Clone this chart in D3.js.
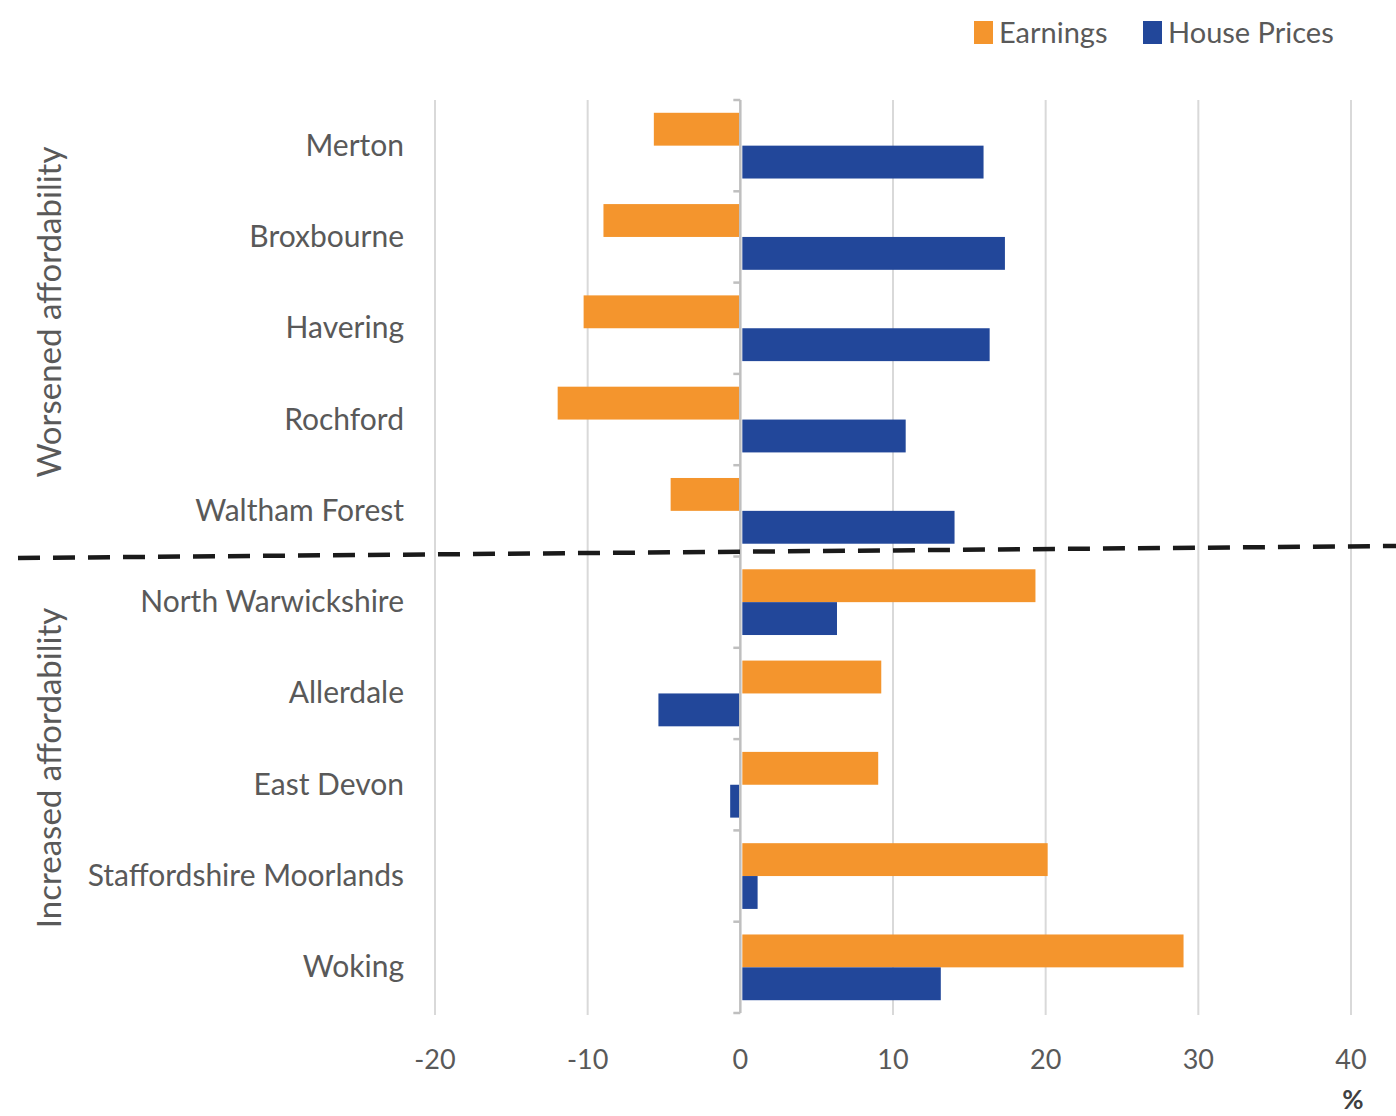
<!DOCTYPE html>
<html>
<head>
<meta charset="utf-8">
<script src="https://cdn.jsdelivr.net/npm/d3@7"></script>
<style>
  html, body { margin: 0; padding: 0; background: #fff; }
  svg { display: block; }
  text { font-family: Lato, "Open Sans", sans-serif; fill: #595959; }
</style>
</head>
<body>
<svg id="chart" width="1396" height="1116"></svg>
<script>
const categories = ["Merton", "Broxbourne", "Havering", "Rochford", "Waltham Forest",
  "North Warwickshire", "Allerdale", "East Devon", "Staffordshire Moorlands", "Woking"];
const seriesNames = ["Earnings", "House Prices"];
const earnings =    [-5.6, -8.9, -10.2, -11.9, -4.5, 19.2, 9.1, 8.9, 20.0, 28.9];
const housePrices = [15.8, 17.2, 16.2, 10.7, 13.9, 6.2, -5.3, -0.6, 1.0, 13.0];
const xTicks = [-20, -10, 0, 10, 20, 30, 40];
const groupLabels = ["Worsened affordability", "Increased affordability"];
const colors = { "Earnings": "#f4952d", "House Prices": "#22479a" };

const svg = d3.select("#chart");

const x = d3.scaleLinear().domain([-20, 40]).range([435, 1351]);
const y = d3.scaleBand().domain(categories).range([100, 1013]).paddingInner(0).paddingOuter(0);
const bw = y.bandwidth();
const y1 = d3.scaleBand().domain(seriesNames).range([bw * 0.14, bw * 0.86]);

// gridlines
svg.append("g").selectAll("line")
  .data(xTicks.filter(d => d !== 0))
  .join("line")
  .attr("x1", d => x(d)).attr("x2", d => x(d))
  .attr("y1", 100).attr("y2", 1015)
  .attr("stroke", "#d9d9d9").attr("stroke-width", 2);

// bars
const data = categories.map((c, i) => ({ cat: c, values: [
  { s: "Earnings", v: earnings[i] }, { s: "House Prices", v: housePrices[i] }] }));

const groups = svg.append("g").selectAll("g")
  .data(data).join("g")
  .attr("transform", d => `translate(0,${y(d.cat)})`);

groups.selectAll("rect")
  .data(d => d.values).join("rect")
  .attr("x", d => Math.min(x(0), x(d.v)) + (d.v >= 0 ? 2 : -1))
  .attr("width", d => Math.abs(x(d.v) - x(0)))
  .attr("y", d => y1(d.s))
  .attr("height", y1.bandwidth())
  .attr("fill", d => colors[d.s]);

// y axis line and ticks
svg.append("line")
  .attr("x1", x(0)).attr("x2", x(0)).attr("y1", 100).attr("y2", 1013)
  .attr("stroke", "#bfbfbf").attr("stroke-width", 2.5);
const boundaries = categories.map(c => y(c)).concat([y.range()[1]]);
svg.append("g").selectAll("line").data(boundaries).join("line")
  .attr("x1", x(0) - 7).attr("x2", x(0))
  .attr("y1", d => d).attr("y2", d => d)
  .attr("stroke", "#bfbfbf").attr("stroke-width", 2.5);

// category labels
svg.append("g").selectAll("text").data(categories).join("text")
  .attr("x", 404)
  .attr("y", d => y(d) + bw / 2 - 2)
  .attr("text-anchor", "end")
  .attr("dominant-baseline", "central")
  .style("font-size", "30px")
  .text(d => d);

// x tick labels
svg.append("g").selectAll("text").data(xTicks).join("text")
  .attr("x", d => x(d))
  .attr("y", 1058)
  .attr("text-anchor", "middle")
  .attr("dominant-baseline", "central")
  .style("font-size", "27px")
  .text(d => d);

svg.append("text").attr("x", 1353).attr("y", 1099)
  .attr("text-anchor", "middle").attr("dominant-baseline", "central")
  .style("font-size", "26px").style("font-weight", "bold").style("fill", "#404040").text("%");

// group labels (rotated)
const groupCenters = [312, 768];
svg.append("g").selectAll("text").data(groupLabels).join("text")
  .attr("transform", (d, i) => `translate(48,${groupCenters[i]}) rotate(-90)`)
  .attr("text-anchor", "middle")
  .attr("dominant-baseline", "central")
  .style("font-size", "33px")
  .text(d => d);

// dashed separator
svg.append("line")
  .attr("x1", 18).attr("y1", 558).attr("x2", 1396).attr("y2", 546)
  .attr("stroke", "#1a1a1a").attr("stroke-width", 4.5)
  .attr("stroke-dasharray", "22 13");

// legend
const legendPos = [{ s: "Earnings", x: 974 }, { s: "House Prices", x: 1143 }];
const lg = svg.append("g").selectAll("g").data(legendPos).join("g")
  .attr("transform", d => `translate(${d.x},21)`);
lg.append("rect").attr("width", 19).attr("height", 23).attr("fill", d => colors[d.s]);
lg.append("text").attr("x", 25).attr("y", 10)
  .attr("dominant-baseline", "central")
  .style("font-size", "29px")
  .text(d => d.s);
</script>
</body>
</html>
